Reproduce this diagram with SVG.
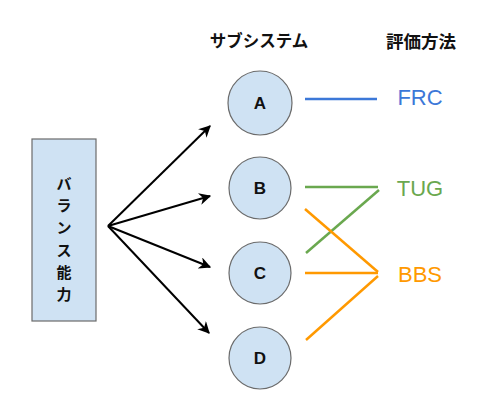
<svg xmlns="http://www.w3.org/2000/svg" width="500" height="413" viewBox="0 0 500 413">
<style>
.box{fill:#cfe2f3;stroke:#6b6b6b;stroke-width:1.2}
.lbl{font-family:"Liberation Sans","Noto Sans CJK JP",sans-serif;font-weight:bold;fill:#111;text-anchor:middle;dominant-baseline:central}
.jp{font-family:"Noto Sans CJK JP","Liberation Sans",sans-serif;font-weight:bold;fill:#111;text-anchor:middle;dominant-baseline:central}
.v{font-size:15px}
.m{font-family:"Liberation Sans",Arial,sans-serif;font-size:22px;text-anchor:middle;dominant-baseline:central}
.arr{stroke:#000;stroke-width:2;fill:none;marker-end:url(#ah)}
.b{stroke:#3c78d8;stroke-width:2.5;fill:none}
.g{stroke:#6aa84f;stroke-width:2.5;fill:none}
.o{stroke:#ff9900;stroke-width:2.5;fill:none}
</style>
<defs>
<marker id="ah" viewBox="0 0 10 10" refX="9" refY="5" markerWidth="6" markerHeight="6" orient="auto" markerUnits="strokeWidth">
<path d="M0,0 L10,5 L0,10 L3,5 Z" fill="#000"/>
</marker>
</defs>
<rect width="500" height="413" fill="#fff"/>
<text class="jp" x="259" y="40" font-size="16.5">サブシステム</text>
<text class="jp" x="421" y="40" font-size="17.5">評価方法</text>
<g id="balance">
<rect class="box" x="32" y="139" width="64" height="182"/>
<text class="jp v" x="64" y="182">バ</text>
<text class="jp v" x="64" y="204">ラ</text>
<text class="jp v" x="64" y="226">ン</text>
<text class="jp v" x="64" y="249">ス</text>
<text class="jp v" x="64" y="271">能</text>
<text class="jp v" x="64" y="293">力</text>
</g>
<g id="nodeA"><circle class="box" cx="260" cy="103" r="32"/><text class="lbl" x="260" y="103" font-size="17">A</text></g>
<g id="nodeB"><circle class="box" cx="260" cy="188" r="31"/><text class="lbl" x="260" y="188" font-size="17">B</text></g>
<g id="nodeC"><circle class="box" cx="260" cy="273" r="31"/><text class="lbl" x="260" y="273" font-size="17">C</text></g>
<g id="nodeD"><circle class="box" cx="260" cy="358" r="31"/><text class="lbl" x="260" y="358" font-size="17">D</text></g>
<g id="FRC"><text class="m" x="420" y="97" fill="#3c78d8">FRC</text></g>
<g id="TUG"><text class="m" x="420" y="188" fill="#6aa84f">TUG</text></g>
<g id="BBS"><text class="m" x="420" y="274" fill="#ff9900">BBS</text></g>
<g id="connectors">
<line class="arr" x1="108" y1="226" x2="210" y2="126"/>
<line class="arr" x1="108" y1="226" x2="210" y2="196"/>
<line class="arr" x1="108" y1="226" x2="210" y2="267"/>
<line class="arr" x1="108" y1="226" x2="209" y2="333"/>
<line class="b" x1="305" y1="99" x2="377" y2="99"/>
<line class="g" x1="305" y1="187" x2="378" y2="187"/>
<line class="g" x1="306" y1="253" x2="379" y2="190"/>
<line class="o" x1="305" y1="209" x2="378" y2="272"/>
<line class="o" x1="305" y1="273" x2="378" y2="273"/>
<line class="o" x1="306" y1="340" x2="378" y2="276"/>
</g>
</svg>
